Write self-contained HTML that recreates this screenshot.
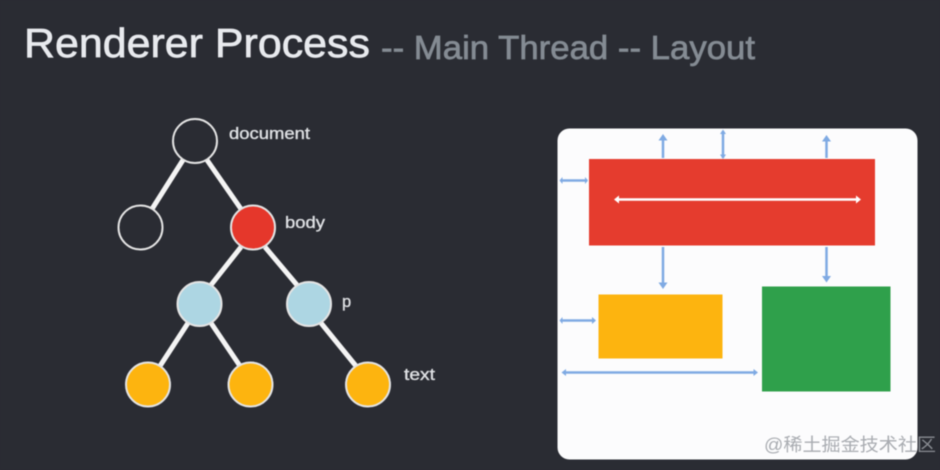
<!DOCTYPE html>
<html><head><meta charset="utf-8">
<style>
html,body{margin:0;padding:0;background:#2a2c33;}
svg{display:block;filter:blur(0.45px);}
text{font-family:"Liberation Sans","Noto Sans CJK SC",sans-serif;}
</style></head>
<body>
<svg width="940" height="470" viewBox="0 0 940 470" xmlns="http://www.w3.org/2000/svg">
<rect width="940" height="470" fill="#2a2c33"/>
<text x="24" y="57" font-size="41" fill="#e8eaee" stroke="#e8eaee" stroke-width="0.7" textLength="346" lengthAdjust="spacingAndGlyphs">Renderer Process</text>
<text x="381" y="59" font-size="33" fill="#848b93" stroke="#848b93" stroke-width="0.7" textLength="374" lengthAdjust="spacingAndGlyphs">-- Main Thread -- Layout</text>

<g stroke="#f4f4f4" stroke-width="5" fill="none">
<line x1="183" y1="160" x2="152" y2="209"/>
<line x1="207" y1="160" x2="241" y2="209"/>
<line x1="241" y1="247" x2="211" y2="285"/>
<line x1="265" y1="247" x2="297" y2="285"/>
<line x1="188" y1="323" x2="160" y2="366"/>
<line x1="211" y1="323" x2="240" y2="366"/>
<line x1="321" y1="323" x2="356" y2="366"/>
</g>
<g stroke="#e4e4e4" stroke-width="2">
<circle cx="195" cy="141" r="22" fill="#2a2c33"/>
<circle cx="140.500" cy="227.500" r="22" fill="#2a2c33"/>
<circle cx="253" cy="227.500" r="22" fill="#e5372b"/>
<circle cx="199.500" cy="304" r="22" fill="#add6e3"/>
<circle cx="309" cy="304" r="22" fill="#add6e3"/>
<circle cx="148" cy="384.500" r="22" fill="#fdb40f"/>
<circle cx="250.500" cy="384.500" r="22" fill="#fdb40f"/>
<circle cx="368" cy="384.500" r="22" fill="#fdb40f"/>
</g>
<g fill="#dfe1e4" stroke="#dfe1e4" stroke-width="0.35" font-size="16.500">
<text x="229" y="139" textLength="81" lengthAdjust="spacingAndGlyphs">document</text>
<text x="285" y="228" textLength="40" lengthAdjust="spacingAndGlyphs">body</text>
<text x="342" y="307">p</text>
<text x="404" y="380" textLength="31" lengthAdjust="spacingAndGlyphs">text</text>
</g>

<rect x="557.500" y="128.500" width="360" height="331" rx="12" fill="#fcfcfd"/>
<rect x="589" y="159" width="286" height="86.500" fill="#e53c2e"/>
<rect x="598.500" y="294.500" width="124" height="64" fill="#fdb40f"/>
<rect x="762" y="286.500" width="128.500" height="105" fill="#2fa04b"/>

<g stroke="#7faae3" stroke-width="2.500" fill="#7faae3">
<line x1="663" y1="158" x2="663" y2="136"/><path d="M663 134l-4.500 6.500h9z" stroke="none"/>
<line x1="723" y1="158" x2="723" y2="131"/><path d="M723 129.500l-3 4.500h6zM723 159l-3-4.500h6z" stroke="none"/>
<line x1="826.500" y1="158" x2="826.500" y2="137"/><path d="M826.500 135l-4.500 6.500h9z" stroke="none"/>
<line x1="561" y1="180.500" x2="587" y2="180.500"/><path d="M559.500 180.500l3-3.500v7zM588 180.500l-3-3.500v7z" stroke="none"/>
<line x1="663" y1="247" x2="663" y2="287"/><path d="M663 289l-4.500-6.500h9z" stroke="none"/>
<line x1="826.500" y1="247" x2="826.500" y2="280"/><path d="M826.500 282.500l-4.500-6.500h9z" stroke="none"/>
<line x1="561" y1="320.500" x2="594" y2="320.500"/><path d="M559.500 320.500l3-3.500v7zM596 320.500l-4-3.500v7z" stroke="none"/>
<line x1="564" y1="372.500" x2="756" y2="372.500"/><path d="M561.500 372.500l4.500-3.500v7zM758 372.500l-4.500-3.500v7z" stroke="none"/>
</g>
<g stroke="#fff" stroke-width="2.500" fill="#fff">
<line x1="617" y1="199.500" x2="858" y2="199.500"/>
<path d="M614 199.500l5-4v8zM861 199.500l-5-4v8z" stroke="none"/>
</g>
<text x="764" y="451" font-size="18" fill="#9a9da3" fill-opacity="0.85" textLength="172" lengthAdjust="spacingAndGlyphs">@稀土掘金技术社区</text>
</svg>
</body></html>
